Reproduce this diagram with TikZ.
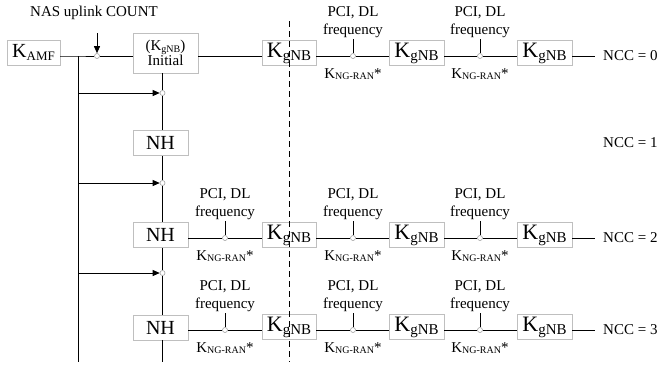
\documentclass[tikz,border=0pt]{standalone}
\usepackage{fontspec}
\setmainfont{Liberation Serif}
\usetikzlibrary{arrows.meta}
\definecolor{boxgray}{HTML}{BFBFBF}
\definecolor{dotgray}{HTML}{A0A0A0}
\newcommand{\Kgnb}{{\fontsize{22}{22}\selectfont K}\raisebox{-3pt}{\fontsize{15}{15}\selectfont gNB}}
\newcommand{\Kamf}{{\fontsize{20}{20}\selectfont K}\raisebox{-2.5pt}{\fontsize{13}{13}\selectfont AMF}}
\newcommand{\Kngran}{K\raisebox{-1.5pt}{\fontsize{10}{10}\selectfont NG-RAN}*}
\newcommand{\Kinit}{(K\raisebox{-1.5pt}{\fontsize{10}{10}\selectfont gNB})}
\begin{document}
\begin{tikzpicture}[x=1pt,y=-1pt,
  box/.style={draw=boxgray,fill=white,line width=0.9pt,minimum height=25pt,inner sep=0pt},
  txt/.style={font=\fontsize{15}{15}\selectfont,inner sep=0pt},
  nhbox/.style={box,minimum width=55pt,font=\fontsize{20}{20}\selectfont},
  dot/.style={circle,draw=dotgray,fill=white,minimum size=5pt,inner sep=0pt,line width=0.6pt},
  wire/.style={line width=0.8pt},
  arr/.style={wire,-{Triangle[length=7pt,width=6pt]}},
  cut/.style={line width=0.8pt,dash pattern=on 6pt off 4pt}]
\useasboundingbox (0,0) rectangle (659,365);

% left part
\node[box,minimum width=53pt] (kamf) at (33.5,52.5) {\Kamf};
\node[box,txt,minimum width=65pt,minimum height=40pt,align=center] (init) at (165.5,53) {\Kinit\\Initial};
\node[dot] (c00) at (97,56) {};
\coordinate (lt) at (78,56);
\coordinate (lb) at (78,362);
\coordinate (nas) at (97,33);
\node[txt] (nastxt) at (94,13) {NAS uplink COUNT};

\node[nhbox] (n1) at (160.5,143) {NH};
\node[nhbox] (n2) at (160.5,235) {NH};
\node[nhbox] (n3) at (160.5,327.5) {NH};
\node[txt,anchor=west] (ncc1) at (603,143) {NCC = 1};

\node[dot] (a1) at (162.5,93) {};
\node[dot] (a2) at (162.5,183) {};
\node[dot] (a3) at (162.5,273) {};
\coordinate (cb) at (162.5,362);

% right part rows
\foreach \r/\L in {0/56,2/238,3/330}{
  \node[box,minimum width=54pt] (kA\r) at (289,\L-3) {\Kgnb};
  \node[box,minimum width=55pt] (kB\r) at (416.5,\L-3) {\Kgnb};
  \node[box,minimum width=55pt] (kC\r) at (544.5,\L-3) {\Kgnb};
  \node[dot] (cA\r) at (353,\L) {};
  \node[dot] (cB\r) at (480,\L) {};
  \node[txt,anchor=west] (ncc\r) at (603,\L) {NCC = \r};
  \draw[wire] (kA\r.east |- cA\r) -- (cA\r) -- (kB\r.west |- cA\r);
  \draw[wire] (kB\r.east |- cB\r) -- (cB\r) -- (kC\r.west |- cB\r);
  \draw[wire,shorten >=8pt] (kC\r.east |- cB\r) -- (ncc\r.west);
  \foreach \cx/\nm in {353/A,480/B}{
    \coordinate (t\nm\r) at (\cx,\L-17);
    \draw[wire] (c\nm\r) -- (t\nm\r);
    \node[txt] (p\nm\r) at (\cx,\L-43) {PCI, DL};
    \node[txt] (f\nm\r) at (\cx,\L-25) {frequency};
    \node[txt] (g\nm\r) at (\cx,\L+18) {\Kngran};
  }
}
\foreach \r/\L in {2/238,3/330}{
  \node[dot] (cL\r) at (225,\L) {};
  \draw[wire] (n\r.east |- cL\r) -- (cL\r) -- (kA\r.west |- cL\r);
  \coordinate (tL\r) at (225,\L-17);
  \draw[wire] (cL\r) -- (tL\r);
  \node[txt] (pL\r) at (225,\L-43) {PCI, DL};
  \node[txt] (fL\r) at (225,\L-25) {frequency};
  \node[txt] (gL\r) at (225,\L+18) {\Kngran};
}

% wires
\draw[wire] (kamf.east |- lt) -- (lt) -- (c00) -- (init.west |- c00);
\draw[wire] (init.east |- c00) -- (kA0.west |- c00);
\draw[arr] (nas) -- (c00);
\draw[wire] (lt) -- (lb);
\draw[wire] (init.south -| a1) -- (a1) -- (n1.north -| a1);
\draw[wire] (n1.south -| a1) -- (a2) -- (n2.north -| a1);
\draw[wire] (n2.south -| a1) -- (a3) -- (n3.north -| a1);
\draw[wire] (n3.south -| a1) -- (cb);
\draw[arr] (a1 -| lt) -- (a1);
\draw[arr] (a2 -| lt) -- (a2);
\draw[arr] (a3 -| lt) -- (a3);

% dashed cut
\coordinate (dt) at (289,21);
\coordinate (db) at (289,362);
\draw[cut] (dt) -- (db);
\end{tikzpicture}
\end{document}
